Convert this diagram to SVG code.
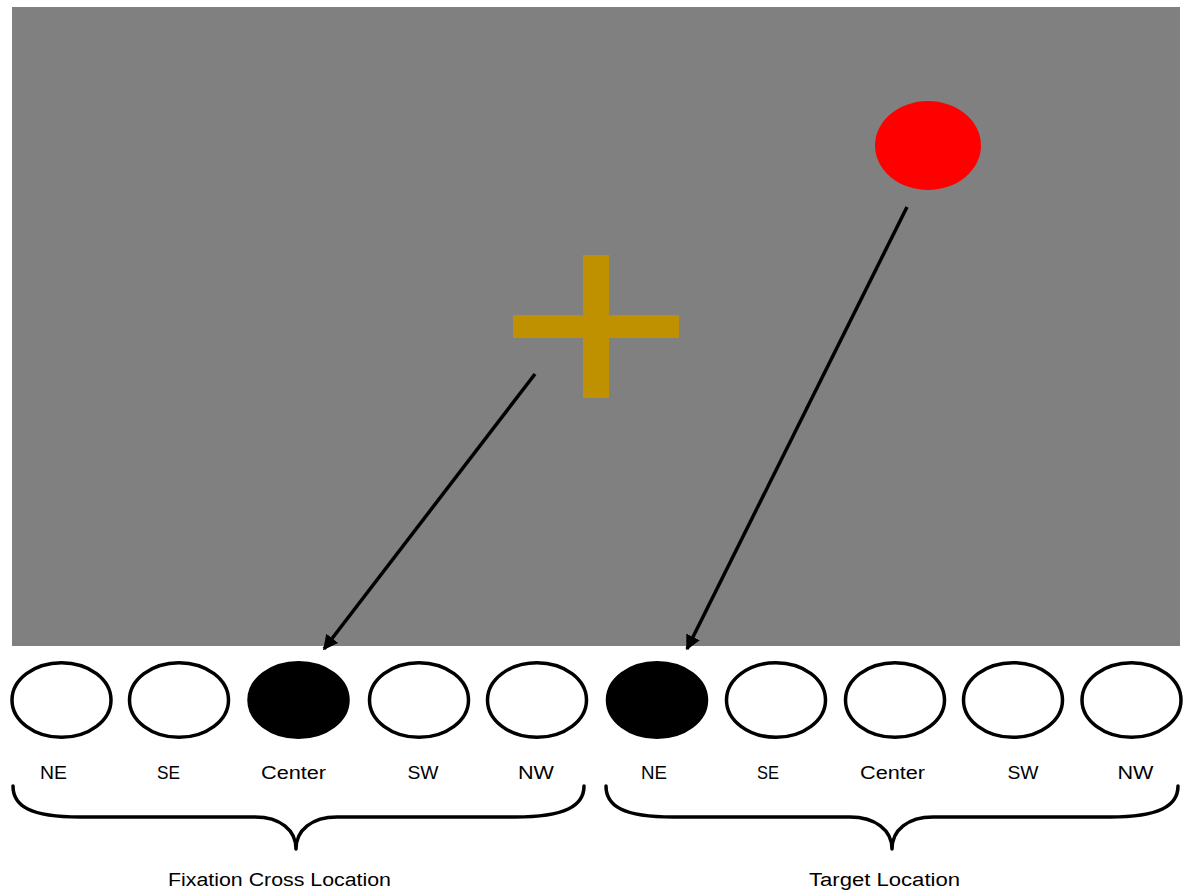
<svg xmlns="http://www.w3.org/2000/svg" width="1188" height="890" viewBox="0 0 1188 890">
<style>
.slot{fill:#ffffff;stroke:#000000;stroke-width:3.5}
.on{fill:#000000;stroke:#000000;stroke-width:3.5}
.lbl{font-family:"Liberation Sans",Arial,sans-serif;font-size:18px;fill:#000000;text-anchor:middle}
.brace{fill:none;stroke:#000000;stroke-width:3.5;stroke-linecap:round;stroke-linejoin:round}
.arrow{stroke:#000000;stroke-width:3.5;fill:none;marker-end:url(#ah)}
</style>
<defs>
<marker id="ah" viewBox="0 0 10 10" refX="9" refY="5" markerWidth="4.3" markerHeight="4.3" orient="auto" markerUnits="strokeWidth">
<path d="M0,0 L10,5 L0,10 z" fill="#000000"/>
</marker>
</defs>
<rect width="1188" height="890" fill="#ffffff"/>
<g id="screen">
<rect x="12" y="7" width="1168" height="639" fill="#808080"/>
</g>
<g id="target">
<ellipse cx="928" cy="145.5" rx="53" ry="44.5" fill="#ff0000"/>
</g>
<g id="fixation-cross">
<rect x="583" y="255" width="26" height="143" fill="#bf9000"/>
<rect x="513" y="315" width="166" height="23" fill="#bf9000"/>
</g>
<g id="connectors">
<line class="arrow" x1="535" y1="374" x2="324" y2="649"/>
<line class="arrow" x1="907" y1="207" x2="687" y2="649"/>
</g>
<g id="fixation-slots">
<ellipse class="slot" cx="61.5" cy="700" rx="49.5" ry="37.3"/>
<ellipse class="slot" cx="179" cy="700" rx="49.5" ry="37.3"/>
<ellipse class="on" cx="298.5" cy="700" rx="49.5" ry="37.3"/>
<ellipse class="slot" cx="419" cy="700" rx="49.5" ry="37.3"/>
<ellipse class="slot" cx="537" cy="700" rx="49.5" ry="37.3"/>
<text class="lbl" x="53.5" y="779" textLength="27" lengthAdjust="spacingAndGlyphs">NE</text>
<text class="lbl" x="168.5" y="779" textLength="23" lengthAdjust="spacingAndGlyphs">SE</text>
<text class="lbl" x="293.5" y="779" textLength="65" lengthAdjust="spacingAndGlyphs">Center</text>
<text class="lbl" x="423" y="779" textLength="31" lengthAdjust="spacingAndGlyphs">SW</text>
<text class="lbl" x="536" y="779" textLength="36" lengthAdjust="spacingAndGlyphs">NW</text>
<path class="brace" d="M13,786 C13,806 30,817 80,817 L255,817 C280,817 296,830 296,849 C296,830 312,817 337,817 L515,817 C565,817 584,806 584,786"/>
<text class="lbl" x="279.5" y="886" textLength="223" lengthAdjust="spacingAndGlyphs">Fixation Cross Location</text>
</g>
<g id="target-slots">
<ellipse class="on" cx="657" cy="700" rx="49.5" ry="37.3"/>
<ellipse class="slot" cx="776" cy="700" rx="49.5" ry="37.3"/>
<ellipse class="slot" cx="895" cy="700" rx="49.5" ry="37.3"/>
<ellipse class="slot" cx="1013" cy="700" rx="49.5" ry="37.3"/>
<ellipse class="slot" cx="1131.5" cy="700" rx="49.5" ry="37.3"/>
<text class="lbl" x="654" y="779" textLength="26" lengthAdjust="spacingAndGlyphs">NE</text>
<text class="lbl" x="768" y="779" textLength="22" lengthAdjust="spacingAndGlyphs">SE</text>
<text class="lbl" x="892.5" y="779" textLength="65" lengthAdjust="spacingAndGlyphs">Center</text>
<text class="lbl" x="1023" y="779" textLength="31" lengthAdjust="spacingAndGlyphs">SW</text>
<text class="lbl" x="1135.5" y="779" textLength="36" lengthAdjust="spacingAndGlyphs">NW</text>
<path class="brace" d="M606,786 C606,806 623,817 673,817 L850,817 C875,817 892,830 892,849 C892,830 908,817 933,817 L1110,817 C1159,817 1178,806 1178,786"/>
<text class="lbl" x="884.5" y="886" textLength="151" lengthAdjust="spacingAndGlyphs">Target Location</text>
</g>
</svg>
